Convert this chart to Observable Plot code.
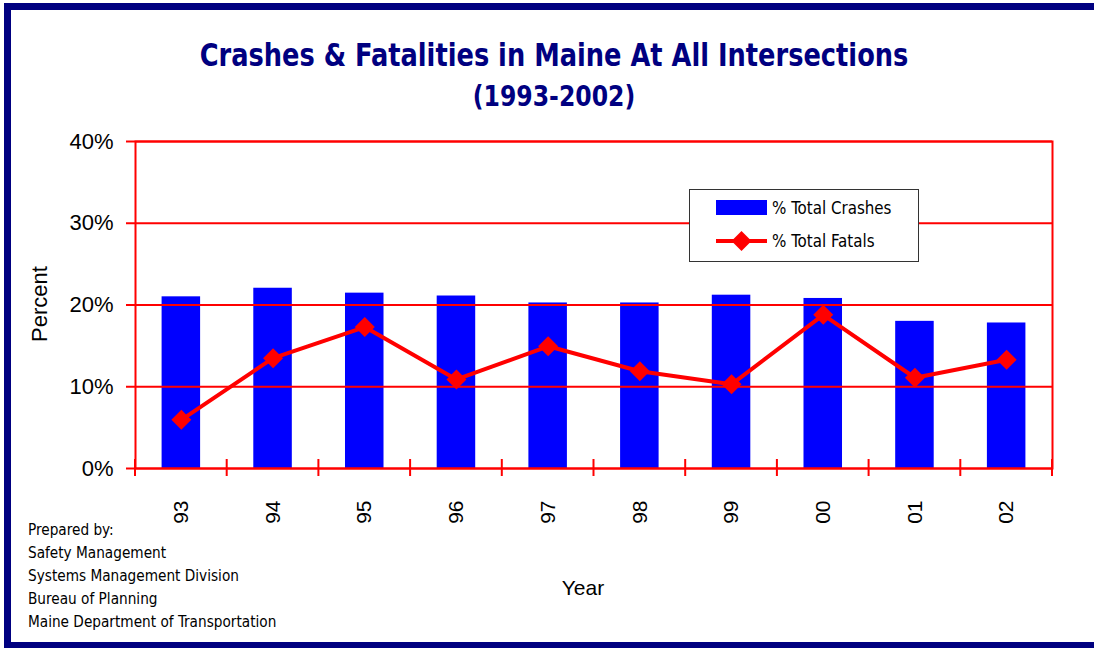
<!DOCTYPE html>
<html>
<head>
<meta charset="utf-8">
<script src="https://cdn.jsdelivr.net/npm/d3@7"></script>
<script src="https://cdn.jsdelivr.net/npm/@observablehq/plot@0.6"></script>
<style>
  html, body { margin: 0; padding: 0; width: 1094px; height: 648px; overflow: hidden; background: #fff; }
  #frame { position: absolute; left: 4px; top: 3px; width: 1200px; height: 632px;
           border-left: 7px solid #000080; border-top: 7px solid #000080; border-bottom: 6px solid #000080; }
  .title { position: absolute; left: 554px; color: #000080; font-weight: bold;
           font-family: "Liberation Sans Narrow", "DejaVu Sans Condensed", sans-serif; white-space: nowrap; }
  #chart { position: absolute; left: 0; top: 120px; }
  .lbl { position: absolute; font-family: "Liberation Sans", Arial, sans-serif; color: #000; white-space: nowrap; }
  #prep { position: absolute; left: 28px; top: 519px; font-family: "DejaVu Sans Condensed", "Liberation Sans Narrow", sans-serif;
          font-size: 15.2px; line-height: 23px; color: #000; }
  #legend { position: absolute; left: 689px; top: 189px; width: 228px; height: 71px; background: #fff;
            border: 1px solid #333; font-family: "DejaVu Sans Condensed", "Liberation Sans Narrow", sans-serif; font-size: 16.8px; }
  .li { position: absolute; left: 26px; height: 20px; display: flex; align-items: center; }
  .li span { margin-left: 5px; }
</style>
</head>
<body>
<div id="frame"></div>
<div class="title" id="t1" style="top:55px;font-size:32px;line-height:38px;transform:translate(-50%,-50%) scaleX(0.892);"></div>
<div class="title" id="t2" style="top:97px;font-size:28px;line-height:34px;transform:translate(-50%,-50%) scaleX(0.935);"></div>
<div id="chart"></div>
<div class="lbl" id="ylab" style="left:40px;top:304px;font-size:22px;transform:translate(-50%,-50%) rotate(-90deg);"></div>
<div class="lbl" id="xlab" style="left:583px;top:588px;font-size:21px;transform:translate(-50%,-50%);"></div>
<div id="prep"></div>
<div id="legend">
  <div class="li" style="top:8px;">
    <svg width="51" height="16"><rect x="0" y="0" width="51" height="15" fill="#0000ff"></rect></svg>
    <span id="leg1"></span>
  </div>
  <div class="li" style="top:41px;">
    <svg width="51" height="20"><line x1="0" x2="51" y1="10" y2="10" stroke="#ff0000" stroke-width="4"></line>
      <path d="M25.5,0 L35.5,10 L25.5,20 L15.5,10 Z" fill="#ff0000"></path></svg>
    <span id="leg2"></span>
  </div>
</div>
<script>
// ---- data ----
const titleText = "Crashes & Fatalities in Maine At All Intersections";
const subtitleText = "(1993-2002)";
const years = ["93", "94", "95", "96", "97", "98", "99", "00", "01", "02"];
const crashes = [21.0, 22.05, 21.45, 21.1, 20.25, 20.25, 21.2, 20.8, 18.0, 17.8];
const fatals = [5.95, 13.5, 17.3, 10.9, 14.95, 11.9, 10.3, 18.8, 11.1, 13.3];
const yTicks = [0, 10, 20, 30, 40];
const seriesNames = ["% Total Crashes", "% Total Fatals"];
const yLabel = "Percent";
const xLabel = "Year";
const preparedBy = ["Prepared by:", "Safety Management", "Systems Management Division", "Bureau of Planning", "Maine Department of Transportation"];

document.getElementById("t1").textContent = titleText;
document.getElementById("t2").textContent = subtitleText;
document.getElementById("ylab").textContent = yLabel;
document.getElementById("xlab").textContent = xLabel;
document.getElementById("leg1").textContent = seriesNames[0];
document.getElementById("leg2").textContent = seriesNames[1];
document.getElementById("prep").innerHTML = preparedBy.map(s => `<div>${s}</div>`).join("");

const rows = years.map((y, i) => ({year: y, crashes: crashes[i], fatals: fatals[i]}));

// boundary ticks between the year bands, computed from Plot's own scales
function bandTicks(index, scales) {
  const f = typeof scales.x === "function" ? scales.x : scales.x.apply;
  const d = (scales.scales && scales.scales.x) || {};
  let bw = 0;
  if (typeof f.bandwidth === "function") bw = f.bandwidth();
  else if (typeof d.bandwidth === "function") bw = d.bandwidth();
  else if (typeof d.bandwidth === "number") bw = d.bandwidth;
  else if (typeof scales.x.bandwidth === "number") bw = scales.x.bandwidth;
  const fy = typeof scales.y === "function" ? scales.y : scales.y.apply;
  const step = f(years[1]) - f(years[0]);
  const y0 = fy(0);
  const xs = years.map(y => f(y) + bw / 2 - step / 2);
  xs.push(f(years[years.length - 1]) + bw / 2 + step / 2);
  const g = d3.create("svg:g").attr("stroke", "#ff0000").attr("stroke-width", 2);
  for (const x of xs) g.append("line").attr("x1", x).attr("x2", x).attr("y1", y0 - 9).attr("y2", y0 + 8);
  return g.node();
}

const chart = Plot.plot({
  width: 1094,
  height: 420,
  marginLeft: 135,
  marginRight: 42,
  marginTop: 21,
  marginBottom: 72,
  style: {fontFamily: "'Liberation Sans', Arial, sans-serif", background: "transparent", color: "#000"},
  x: {type: "band", domain: years, paddingInner: 0.58, paddingOuter: 0.29, round: false, label: null},
  y: {domain: [0, 40], label: null},
  marks: [
    Plot.barY(rows, {x: "year", y: "crashes", fill: "#0000ff"}),
    Plot.ruleY(yTicks, {stroke: "#ff0000", strokeWidth: 2}),
    Plot.frame({stroke: "#ff0000", strokeWidth: 2}),
    bandTicks,
    Plot.lineY(rows, {x: "year", y: "fatals", stroke: "#ff0000", strokeWidth: 4}),
    Plot.dot(rows, {x: "year", y: "fatals", symbol: "diamond2", r: 9, fill: "#ff0000", stroke: "none"}),
    Plot.axisY({ticks: yTicks, tickFormat: d => d + "%", tickSize: 9, tickPadding: 13, stroke: "#ff0000", strokeWidth: 2, color: "#000", fontSize: 22, label: null}),
    Plot.axisX({tickSize: 0, tickRotate: -90, tickPadding: 32, fontSize: 21, color: "#000", label: null})
  ]
});
document.getElementById("chart").appendChild(chart);
</script>
</body>
</html>
